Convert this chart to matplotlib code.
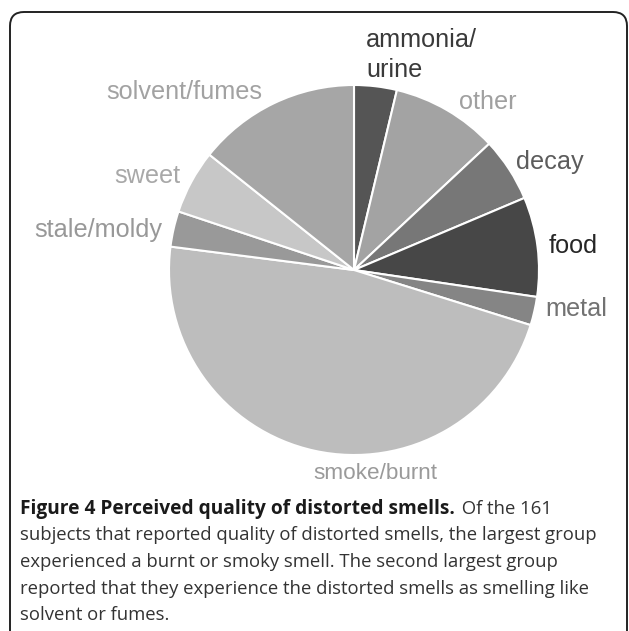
import matplotlib
matplotlib.use("Agg")
import matplotlib.pyplot as plt
import numpy as np
from matplotlib.patches import FancyBboxPatch

# ---- data ----
categories = ["ammonia/\nurine", "other", "decay", "food", "metal",
              "smoke/burnt", "stale/moldy", "sweet", "solvent/fumes"]
counts = [6, 15, 9, 14, 4, 76, 5, 9, 23]
slice_colors = ["#555555", "#a3a3a3", "#777777", "#474747", "#858585",
                "#bdbdbd", "#999999", "#c7c7c7", "#a6a6a6"]
label_colors = ["#3a3a3a", "#a0a0a0", "#5c5c5c", "#262626", "#727272",
                "#9a9a9a", "#989898", "#a8a8a8", "#a2a2a2"]
caption_bold = "Figure 4 Perceived quality of distorted smells."
caption_rest = [" Of the 161",
                "subjects that reported quality of distorted smells, the largest group",
                "experienced a burnt or smoky smell. The second largest group",
                "reported that they experience the distorted smells as smelling like",
                "solvent or fumes."]

# label placement (clockwise angle offset from slice middle, radius, size) – style only
label_dang = [7, 8.5, 4, 1, -3, -18.2, -4, -4, -18]
label_rad = [1.20, 1.16, 1.21, 1.19, 1.22, 1.108, 1.40, 1.23, 1.33]
label_size = [18.2, 18.2, 18.2, 18.2, 18.2, 16.2, 18.2, 18.2, 18.2]

W, H, DPI = 629, 631, 100
fig = plt.figure(figsize=(W / DPI, H / DPI), dpi=DPI)
fig.patch.set_facecolor("white")

# background axes in pixel coordinates
bg = fig.add_axes([0, 0, 1, 1])
bg.set_xlim(0, W)
bg.set_ylim(H, 0)
bg.axis("off")
box = FancyBboxPatch((10, 12), 617, 660, boxstyle="round,pad=0,rounding_size=14",
                     facecolor="white", edgecolor="#222222", linewidth=1.4)
bg.add_patch(box)

# pie axes
cx, cy, R = 354, 270, 185
ax = fig.add_axes([0, 0, 1, 1])
ax.set_facecolor("none")
wedges, texts = ax.pie(counts, colors=slice_colors, startangle=90, counterclock=False,
                       labels=categories, labeldistance=1.2,
                       wedgeprops=dict(edgecolor="white", linewidth=1.5))
ax.set_xlim(-cx / R, (W - cx) / R)
ax.set_ylim(-(H - cy) / R, cy / R)
ax.set_aspect("auto")
ax.axis("off")

total = sum(counts)
cum = np.cumsum([0] + counts)
for i, t in enumerate(texts):
    mid_cw = (cum[i] + counts[i] / 2) / total * 360 + label_dang[i]
    th = np.deg2rad(90 - mid_cw)
    t.set_position((label_rad[i] * np.cos(th), label_rad[i] * np.sin(th)))
    t.set_ha("center")
    t.set_va("center")
    t.set_fontsize(label_size[i])
    t.set_family("Liberation Sans")
    t.set_color(label_colors[i])
    t.set_linespacing(1.3)
texts[0].set_ha("left")
texts[0].set_multialignment("left")
texts[0].set_position(((366 - cx) / R, (cy - 55) / R))

# caption
cap_font = "Open Sans"
fs = 13.35
y0 = 509
dy = 26.5
tb = bg.text(20, y0, caption_bold, fontsize=13.75, fontweight="bold", family=cap_font,
             color="#1a1a1a", va="center", ha="left")
fig.canvas.draw()
x_end = tb.get_window_extent().x1
xd = bg.transData.inverted().transform((x_end, 0))[0]
bg.text(xd + 2, y0, caption_rest[0], fontsize=fs, family=cap_font,
        color="#333333", va="center", ha="left")
for k, line in enumerate(caption_rest[1:], start=1):
    bg.text(20, y0 + k * dy, line, fontsize=fs, family=cap_font, color="#333333",
            va="center", ha="left")

fig.savefig("out.png", dpi=DPI)
